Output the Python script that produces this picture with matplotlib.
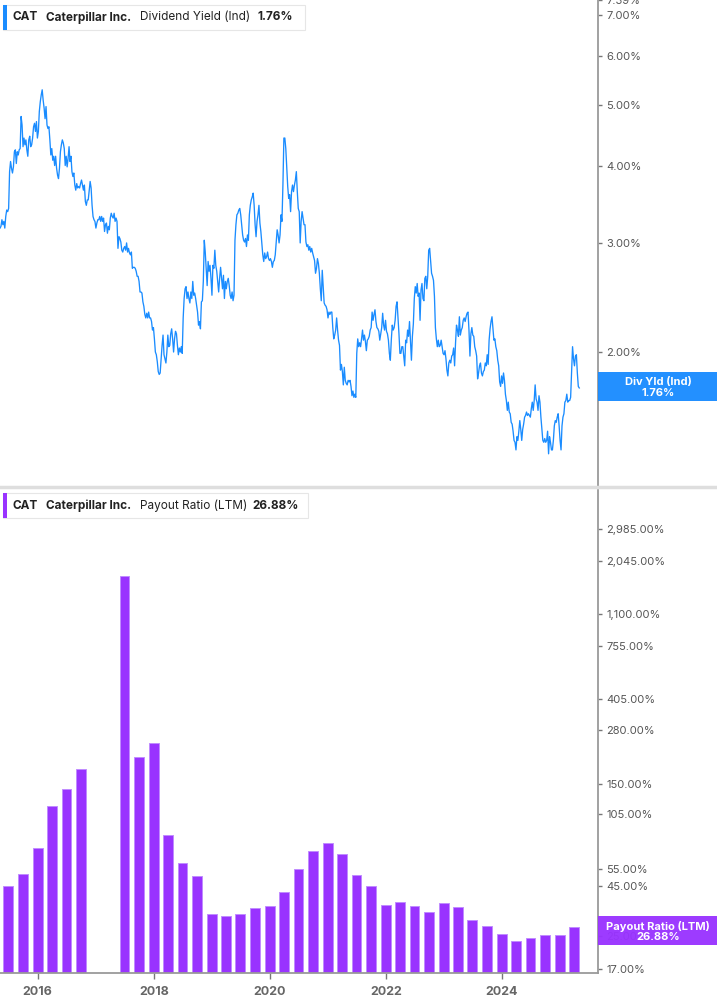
import matplotlib.pyplot as plt
import matplotlib.dates as mdates
from matplotlib.patches import Rectangle
from matplotlib.lines import Line2D
from matplotlib.ticker import FixedLocator, NullLocator
import numpy as np
import pandas as pd

plt.rcParams['font.family'] = ['Inter', 'DejaVu Sans']

# dividend yield (%), sampled roughly weekly from 2015-05 to 2025-05
yield_start = '2015-05-08'
yield_end = '2025-05-03'
div_yield = [
    3.17, 3.19, 3.27, 3.21, 3.25, 3.17, 3.31, 3.39, 3.37, 3.41,
    3.91, 4.06, 3.96, 3.89, 3.98, 4.21, 4.24, 4.03, 4.21, 4.16,
    4.24, 4.26, 4.80, 4.65, 4.29, 4.43, 4.32, 4.40, 4.24, 4.14,
    4.40, 4.46, 4.29, 4.32, 4.43, 4.62, 4.68, 4.54, 4.71, 4.43,
    4.54, 4.89, 5.07, 5.20, 5.30, 5.10, 4.95, 4.76, 4.98, 4.65,
    4.59, 4.62, 4.40, 4.16, 4.26, 4.08, 4.14, 4.00, 4.14, 3.96,
    3.86, 3.81, 3.96, 4.21, 4.32, 4.40, 4.35, 4.26, 4.00, 4.14,
    3.98, 4.11, 4.29, 4.06, 4.14, 3.91, 3.84, 3.89, 3.72, 3.65,
    3.74, 3.68, 3.70, 3.68, 3.74, 3.79, 3.72, 3.65, 3.72, 3.50,
    3.45, 3.52, 3.52, 3.65, 3.77, 3.68, 3.45, 3.31, 3.27, 3.25,
    3.17, 3.23, 3.27, 3.27, 3.31, 3.25, 3.31, 3.25, 3.29, 3.13,
    3.21, 3.23, 3.11, 3.19, 3.15, 3.29, 3.35, 3.31, 3.29, 3.35,
    3.25, 3.29, 3.25, 2.94, 3.07, 3.05, 3.01, 2.92, 2.90, 2.94,
    2.96, 2.92, 3.00, 2.90, 2.94, 2.89, 2.87, 2.90, 2.73, 2.74,
    2.74, 2.73, 2.70, 2.65, 2.65, 2.60, 2.50, 2.50, 2.49, 2.41,
    2.37, 2.30, 2.27, 2.31, 2.27, 2.32, 2.27, 2.27, 2.24, 2.17,
    # 2018 - 2020
    2.19, 2.10, 2.00, 1.98, 1.93, 1.86, 1.84, 1.85, 1.95, 2.05,
    2.13, 1.98, 1.95, 1.92, 2.00, 2.13, 2.04, 2.05, 2.14, 2.18,
    2.10, 2.00, 2.10, 2.16, 2.14, 2.05, 1.98, 2.03, 2.00, 2.04,
    1.99, 2.27, 2.44, 2.53, 2.55, 2.44, 2.50, 2.44, 2.40, 2.50,
    2.44, 2.60, 2.47, 2.49, 2.44, 2.38, 2.32, 2.21, 2.24, 2.18,
    2.41, 2.42, 2.60, 3.03, 2.90, 2.73, 2.56, 2.80, 2.70, 2.76,
    2.63, 2.47, 2.76, 2.73, 2.92, 2.76, 2.70, 2.60, 2.50, 2.63,
    2.74, 2.63, 2.53, 2.66, 2.44, 2.60, 2.53, 2.60, 2.63, 2.56,
    2.47, 2.44, 2.50, 2.42, 2.47, 3.03, 3.21, 3.33, 3.35, 3.39,
    3.41, 3.33, 3.21, 3.09, 3.03, 3.01, 3.05, 2.96, 3.09, 3.03,
    3.33, 3.45, 3.52, 3.56, 3.61, 3.45, 3.21, 3.07, 3.25, 3.33,
    3.45, 3.23, 3.13, 3.00, 2.87, 2.80, 2.89, 2.83, 2.85, 2.90,
    2.83, 2.81, 2.83, 2.80, 2.74, 2.80, 2.81, 2.87, 3.01, 3.15,
    3.09, 3.00, 3.09, 3.33, 3.25, 3.72, 4.43, 4.43, 4.26, 3.96,
    3.70, 3.54, 3.59, 3.37, 3.63, 3.72, 3.63, 3.72, 3.79, 3.91,
    3.63, 3.41, 3.37, 3.00, 3.25, 3.37, 3.29, 3.21, 3.21,
    # 2020 - 2023
    3.01, 2.96, 2.98, 2.92, 2.96, 2.90, 2.94, 2.89, 2.85, 2.81,
    2.68, 2.73, 2.83, 2.78, 2.68, 2.53, 2.42, 2.71, 2.55, 2.40,
    2.38, 2.37, 2.34, 2.27, 2.32, 2.30, 2.32, 2.32, 2.19, 2.10,
    2.13, 2.17, 2.27, 2.17, 2.09, 2.05, 1.87, 1.91, 1.86, 1.77,
    1.89, 1.80, 1.78, 1.77, 1.80, 1.79, 1.80, 1.76, 1.70, 1.73,
    1.69, 1.71, 1.69, 1.99, 2.10, 2.04, 2.07, 2.04, 2.10, 2.17,
    2.09, 2.13, 2.08, 2.01, 2.09, 2.10, 2.12, 2.17, 2.19, 2.32,
    2.25, 2.30, 2.34, 2.24, 2.19, 2.18, 2.16, 2.09, 2.14, 2.19,
    2.31, 2.21, 2.17, 2.25, 2.16, 2.14, 2.09, 1.99, 1.94, 2.09,
    2.21, 2.17, 2.19, 2.25, 2.37, 2.41, 2.27, 2.14, 1.99, 1.99,
    2.04, 2.04, 1.97, 1.90, 2.09, 2.07, 2.17, 2.12, 2.24, 2.09,
    1.94, 2.12, 2.22, 2.44, 2.55, 2.49, 2.58, 2.46, 2.49, 2.25,
    2.52, 2.58, 2.44, 2.42, 2.63, 2.65, 2.53, 2.65, 2.92, 2.94,
    2.81, 2.68, 2.65, 2.61, 2.46, 2.19, 2.10, 2.04, 2.09, 2.04,
    2.05, 2.09, 2.04, 1.99, 1.98, 2.01, 1.95, 1.87, 1.83, 1.92,
    1.94, 1.92,
    # 2023 - 2025
    1.97, 1.98, 2.03, 1.90, 2.07, 2.21, 2.17, 2.12, 2.28, 2.13,
    2.17, 2.19, 2.25, 2.27, 2.24, 2.28, 2.31, 2.32, 2.17, 1.97,
    2.14, 2.19, 2.13, 2.12, 2.04, 2.01, 1.97, 1.81, 1.85, 1.90,
    1.92, 1.85, 1.83, 1.86, 1.87, 1.92, 1.90, 1.98, 1.91, 2.09,
    2.18, 2.24, 2.28, 2.18, 2.09, 2.10, 2.04, 2.01, 1.94, 1.90,
    1.79, 1.76, 1.83, 1.78, 1.85, 1.80, 1.71, 1.67, 1.61, 1.66,
    1.60, 1.59, 1.54, 1.53, 1.49, 1.44, 1.43, 1.39, 1.46, 1.44,
    1.49, 1.55, 1.50, 1.44, 1.50, 1.53, 1.57, 1.58, 1.60, 1.58,
    1.59, 1.58, 1.57, 1.62, 1.66, 1.61, 1.67, 1.77, 1.68, 1.66,
    1.61, 1.70, 1.66, 1.57, 1.50, 1.44, 1.43, 1.45, 1.43, 1.44,
    1.49, 1.37, 1.46, 1.43, 1.39, 1.39, 1.44, 1.52, 1.55, 1.54,
    1.57, 1.59, 1.52, 1.44, 1.39, 1.52, 1.57, 1.59, 1.66, 1.67,
    1.71, 1.66, 1.67, 1.67, 1.69, 1.85, 2.04, 1.95, 1.90, 1.97,
    1.98, 1.85, 1.76, 1.75,
]

# payout ratio (LTM, %), quarterly from 2015 Q2 to 2025 Q1; nan = not reported
payout_start = '2015Q2'
payout_ratio = [
    44, 51, 69, 114, 139, 176, np.nan, np.nan, 1710, 204,
    240, 81, 58, 49.6, 31.4, 30.6, 31.4, 33.7, 34.4, 41,
    53.9, 67, 73.9, 64.2, 50.2, 44.1, 35.2, 36.1, 34.8, 32.2,
    35.7, 34.0, 29.2, 27.2, 24.5, 22.5, 23.4, 24.2, 24.2, 26.88,
]

yield_ticks = [2, 3, 4, 5, 6, 7, 7.39]
payout_ticks = [17, 25, 45, 55, 105, 150, 280, 405, 755, 1100, 2045, 2985]
year_ticks = [2016, 2018, 2020, 2022, 2024]

blue = '#1a8cff'
purple = '#9933ff'
W, H = 717, 1005


def fx(px):
    return px / W


def fy(py):
    return 1 - py / H


yield_dates = pd.date_range(yield_start, yield_end, periods=len(div_yield))
payout_dates = pd.period_range(payout_start, periods=len(payout_ratio), freq='Q').end_time.normalize()
payout_ratio = np.array(payout_ratio, dtype=float)
ok = ~np.isnan(payout_ratio)

xlim = (pd.Timestamp('2015-05-08'), pd.Timestamp('2025-08-29'))

fig = plt.figure(figsize=(W / 100, H / 100), dpi=100)
ax1 = fig.add_axes([0, fy(487), fx(598), 487 / H])
ax2 = fig.add_axes([0, fy(973), fx(598), (973 - 490) / H])

# top: dividend yield
ax1.plot(yield_dates, div_yield, color=blue, lw=0.95)
ax1.set_yscale('log')
ax1.set_ylim(1.211, 7.40)
ax1.set_xlim(*xlim)

# bottom: payout ratio bars
ax2.bar(payout_dates[ok], payout_ratio[ok], width=62, bottom=1,
        color=purple, edgecolor='#c08cff', linewidth=0.7)
ax2.set_yscale('log')
ax2.set_ylim(16.2, 4720)
ax2.set_xlim(*xlim)

for ax, ticks in ((ax1, yield_ticks), (ax2, payout_ticks)):
    for s in ('top', 'left'):
        ax.spines[s].set_visible(False)
    ax.spines['right'].set_color('#9a9a9a')
    ax.spines['right'].set_linewidth(1.3)
    ax.yaxis.tick_right()
    ax.yaxis.set_major_locator(FixedLocator(ticks))
    ax.yaxis.set_minor_locator(NullLocator())
    ax.set_yticklabels([f'{t:,.2f}%' for t in ticks])
    ax.tick_params(axis='y', length=3, width=1, color='#777', labelsize=8,
                   labelcolor='#555', pad=3)

ax1.spines['bottom'].set_visible(False)
ax1.set_xticks([])

ax2.spines['bottom'].set_color('#9a9a9a')
ax2.spines['bottom'].set_linewidth(1.3)
ax2.xaxis.set_major_locator(FixedLocator([mdates.date2num(pd.Timestamp(f'{y}-01-01')) for y in year_ticks]))
ax2.xaxis.set_minor_locator(NullLocator())
ax2.set_xticklabels([str(y) for y in year_ticks])
ax2.tick_params(axis='x', length=4, width=1, color='#777', labelsize=9,
                labelcolor='#666', pad=5)
for lab in ax2.get_xticklabels():
    lab.set_fontweight('bold')

# separator between panels
fig.add_artist(Line2D([0, 1], [fy(487.5), fy(487.5)], transform=fig.transFigure,
                      color='#dedede', lw=2.5))


def header(top, bottom, right, accent, pieces):
    fig.add_artist(Rectangle((fx(3), fy(bottom)), fx(right - 3), (bottom - top) / H,
                             transform=fig.transFigure, facecolor='white',
                             edgecolor='#e6e6e6', lw=0.8))
    fig.add_artist(Rectangle((fx(3), fy(bottom)), fx(3.5), (bottom - top) / H,
                             transform=fig.transFigure, facecolor=accent, lw=0))
    yc = fy((top + bottom) / 2)
    for x, txt, wt in pieces:
        fig.text(fx(x), yc, txt, fontsize=8.5, fontweight=wt, color='#222',
                 ha='left', va='center')


header(5, 30, 305, blue, [(13, 'CAT', 'bold'), (46.5, 'Caterpillar Inc.', 'bold'),
                          (140, 'Dividend Yield (Ind)', 'normal'), (257, '1.76%', 'bold')])
header(493, 518, 308, purple, [(13, 'CAT', 'bold'), (46.5, 'Caterpillar Inc.', 'bold'),
                               (140, 'Payout Ratio (LTM)', 'normal'), (252.5, '26.88%', 'bold')])


def value_tag(top, bottom, color, line1, line2):
    fig.add_artist(Rectangle((fx(598), fy(bottom)), 1 - fx(598), (bottom - top) / H,
                             transform=fig.transFigure, facecolor=color, lw=0, alpha=0.96))
    fig.text(fx(658), fy(top + 10), line1, fontsize=8, fontweight='bold', color='white',
             ha='center', va='center')
    fig.text(fx(658), fy(top + 21), line2, fontsize=8, fontweight='bold', color='white',
             ha='center', va='center')


value_tag(372, 401, blue, 'Div Yld (Ind)', '1.76%')
value_tag(916, 945, purple, 'Payout Ratio (LTM)', '26.88%')

fig.savefig('out.png', dpi=100)
